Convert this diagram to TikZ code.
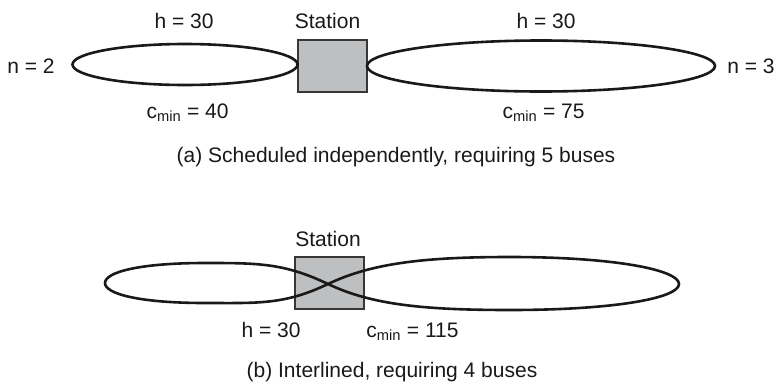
\documentclass[tikz,border=0pt]{standalone}
\usepackage{fontspec}
\setmainfont{Liberation Sans}
\usetikzlibrary{shapes.geometric}
\definecolor{boxgray}{RGB}{190,191,193}
\definecolor{boxline}{RGB}{55,55,55}
\definecolor{ink}{RGB}{25,25,25}
\begin{document}
\begin{tikzpicture}[x=1pt,y=-1pt,
  lbl/.style={inner sep=0pt,anchor=base,text=ink,font=\fontsize{21}{25}\selectfont},
  stationbox/.style={draw=boxline,line width=1.5pt,fill=boxgray,minimum width=69pt,minimum height=52pt,inner sep=0pt},
  routeloop/.style={draw=ink,line width=2.6pt,ellipse,inner sep=0pt},
  routeline/.style={draw=ink,line width=2.6pt}]
\path[use as bounding box] (0,0) rectangle (776,383);

% (a)
\node[stationbox] (s1) at (332.5,66) {};
\node[routeloop,minimum width=225pt,minimum height=41pt] (l1) at (185,64.5) {};
\node[routeloop,minimum width=348pt,minimum height=51pt] (r1) at (541,66) {};
\node[lbl] (st1) at (327.5,28) {Station};
\node[lbl] (h1) at (184,28) {h = 30};
\node[lbl] (h2) at (546,28) {h = 30};
\node[lbl] (n2) at (31,73) {n = 2};
\node[lbl] (n3) at (751,73) {n = 3};
\node[lbl] (c1) at (187.5,118) {c\textsubscript{min} = 40};
\node[lbl] (c2) at (543.5,118) {c\textsubscript{min} = 75};
\node[lbl] (capa) at (396,162) {(a) Scheduled independently, requiring 5 buses};

% (b)
\node[stationbox] (s2) at (329.5,283) {};
\coordinate (C) at (328,284);
\draw[routeline] (C) .. controls (372,263) and (425,257) .. (510,257)
  .. controls (615,257) and (679,270) .. (679,284)
  .. controls (679,298) and (615,310) .. (510,310)
  .. controls (425,310) and (372,305) .. (C)
  .. controls (284,263) and (258,263) .. (205,263)
  .. controls (140,263) and (105,272) .. (105,283)
  .. controls (105,294) and (140,303) .. (205,303)
  .. controls (258,303) and (284,305) .. (C) -- cycle;
\node[lbl] (st2) at (328,246) {Station};
\node[lbl] (h3) at (271,337) {h = 30};
\node[lbl] (c3) at (412.5,337) {c\textsubscript{min} = 115};
\node[lbl] (capb) at (392,377) {(b) Interlined, requiring 4 buses};
\end{tikzpicture}
\end{document}
